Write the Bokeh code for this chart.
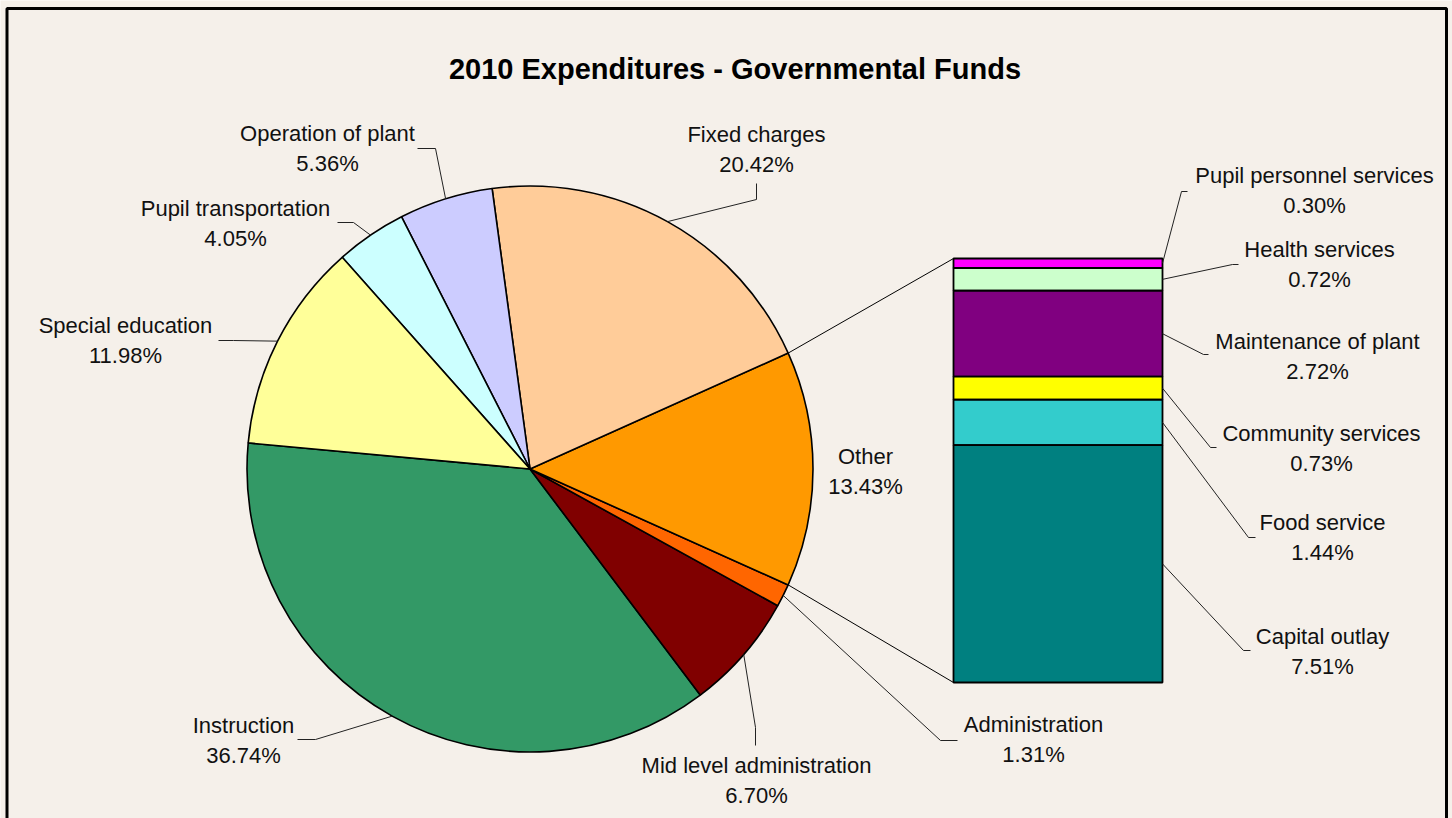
import math
from bokeh.plotting import figure
from bokeh.models import Range1d, ColumnDataSource
from bokeh.embed import file_html
from bokeh.resources import INLINE
from bokeh.core.properties import value

# ---------------- data ----------------
title_text = "2010 Expenditures - Governmental Funds"

pie_labels = ["Instruction", "Mid level administration", "Administration", "Other",
              "Fixed charges", "Operation of plant", "Pupil transportation", "Special education"]
pie_values = [36.74, 6.70, 1.31, 13.43, 20.42, 5.36, 4.05, 11.98]
pie_colors = ["#339966", "#800000", "#FF6600", "#FF9900",
              "#FFCC99", "#CCCCFF", "#CCFFFF", "#FFFF99"]
other_index = 3

bar_labels = ["Pupil personnel services", "Health services", "Maintenance of plant",
              "Community services", "Food service", "Capital outlay"]
bar_values = [0.30, 0.72, 2.72, 0.73, 1.44, 7.51]
bar_colors = ["#FF00FF", "#CCFFCC", "#800080", "#FFFF00", "#33CCCC", "#008080"]

# ---------------- layout (reference pixel coordinates, Y downwards) ----------------
BG = "#F5F0EA"
FONT = "Liberation Sans"
PIE_CX, PIE_CY, PIE_R = 529.5, 468.5, 283.0
BAR_L, BAR_R, BAR_TOP, BAR_BOT = 953.0, 1162.0, 258.0, 682.0
LINE_GAP = 29.5

pie_label_pos = [(243, 725), (756, 765), (1033, 724), (865, 456),
                 (756, 134), (327, 133), (235, 208), (125, 325)]
pie_leader = [[(315, 739), (297, 739)], [(755, 727), (755, 745)], [(940, 740), (957, 740)], None,
              [(756, 199), (756, 183)], [(435, 148), (417, 148)], [(353, 222), (337, 222)],
              [(233, 340), (218, 340)]]
bar_label_pos = [(1314, 175), (1319, 249), (1317, 341), (1321, 433), (1322, 522), (1322, 636)]
bar_leader = [[(1181, 191), (1187, 191)], [(1232, 264), (1238, 264)], [(1203, 354), (1208, 354)],
              [(1210, 447), (1216, 447)], [(1248, 537), (1255, 537)], [(1243, 650), (1250, 650)]]

W, H = 1452, 818


def Y(v):
    return H - v


p = figure(width=W, height=H, x_range=Range1d(0, W), y_range=Range1d(0, H),
           output_backend="svg", toolbar_location=None, min_border=0)
p.axis.visible = False
p.grid.visible = False
p.outline_line_color = None
p.background_fill_color = BG
p.border_fill_color = BG

# ---------------- pie ----------------
total = sum(pie_values)
deg_per = 360.0 / total
before_other = sum(pie_values[:other_index])
start0 = -pie_values[other_index] * deg_per / 2.0 - before_other * deg_per
starts, ends, mids = [], [], []
a = start0
for v in pie_values:
    starts.append(math.radians(a))
    ends.append(math.radians(a + v * deg_per))
    mids.append(math.radians(a + v * deg_per / 2.0))
    a += v * deg_per

src = ColumnDataSource(dict(x=[PIE_CX] * len(pie_values), y=[Y(PIE_CY)] * len(pie_values),
                            s=starts, e=ends, c=pie_colors))
p.wedge(x="x", y="y", radius=PIE_R, start_angle="s", end_angle="e", fill_color="c",
        line_color="black", line_width=1.6, source=src)

# ---------------- bar of "Other" ----------------
bar_total = sum(bar_values)
px_per = (BAR_BOT - BAR_TOP) / bar_total
tops, bots, bar_mid = [], [], []
cum = 0.0
for v in bar_values:
    t = BAR_TOP + cum * px_per
    b = BAR_TOP + (cum + v) * px_per
    tops.append(Y(t))
    bots.append(Y(b))
    bar_mid.append((t + b) / 2.0)
    cum += v
p.quad(left=BAR_L, right=BAR_R, top=tops, bottom=bots, fill_color=bar_colors,
       line_color="black", line_width=1.8)

# connector lines from "Other" slice to the bar
up = ends[other_index]
lo = starts[other_index]
p.line([PIE_CX + PIE_R * math.cos(up), BAR_L], [Y(PIE_CY) + PIE_R * math.sin(up), Y(BAR_TOP)],
       line_color="black", line_width=1)
p.line([PIE_CX + PIE_R * math.cos(lo), BAR_L], [Y(PIE_CY) + PIE_R * math.sin(lo), Y(BAR_BOT)],
       line_color="black", line_width=1)

# ---------------- leaders ----------------
for i, pts in enumerate(pie_leader):
    if pts is None:
        continue
    sx = PIE_CX + PIE_R * math.cos(mids[i])
    sy = Y(PIE_CY) + PIE_R * math.sin(mids[i])
    p.line([sx] + [q[0] for q in pts], [sy] + [Y(q[1]) for q in pts],
           line_color="#222222", line_width=1)
for i, pts in enumerate(bar_leader):
    p.line([BAR_R] + [q[0] for q in pts], [Y(bar_mid[i])] + [Y(q[1]) for q in pts],
           line_color="#222222", line_width=1)

# ---------------- labels ----------------
def add_labels(names, vals, pos):
    xs = [q[0] for q in pos]
    p.text(x=xs, y=[Y(q[1]) for q in pos], text=names, text_align="center",
           text_baseline="middle", text_font=value(FONT), text_font_size="22px",
           text_color="#111111")
    p.text(x=xs, y=[Y(q[1] + LINE_GAP) for q in pos], text=[f"{v:.2f}%" for v in vals],
           text_align="center", text_baseline="middle", text_font=value(FONT),
           text_font_size="22px", text_color="#111111")


add_labels(pie_labels, pie_values, pie_label_pos)
add_labels(bar_labels, bar_values, bar_label_pos)

p.text(x=[734.5], y=[Y(68)], text=[title_text], text_align="center", text_baseline="middle",
       text_font=value(FONT), text_font_size="29px", text_font_style="bold", text_color="#000000")

# ---------------- chart-area border ----------------
p.line([6.5, 6.5, 1446, 1446], [-5, Y(8), Y(8), -5], line_color="black", line_width=3)

open("out.html", "w").write(file_html(p, INLINE))
